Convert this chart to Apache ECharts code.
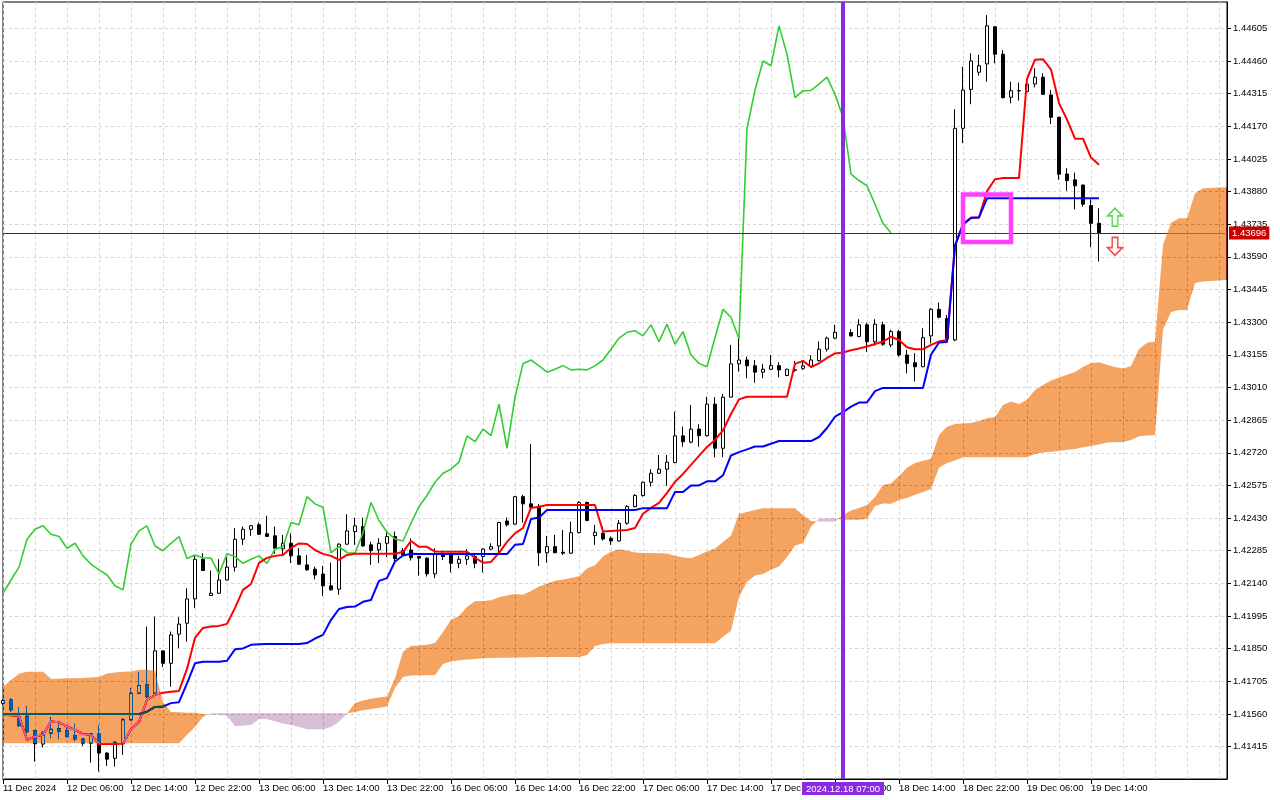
<!DOCTYPE html>
<html>
<head>
<meta charset="utf-8">
<script src="https://cdn.jsdelivr.net/npm/echarts@6/dist/echarts.min.js"></script>
<style>html,body{margin:0;padding:0;background:#fff}#chart{width:1280px;height:800px}</style>
</head>
<body>
<div id="chart"></div>
<script>
// ---------- DATA (H1 candles) ----------
const opens = [
1.41607,1.41622,1.41541,1.41550,1.41485,1.41426,1.41475,1.41494,1.41486,1.41464,
1.41449,1.41430,1.41471,1.41386,1.41363,1.41427,1.41534,1.41652,1.41689,1.41652,
1.41840,1.41785,1.41914,1.41963,1.42071,1.42247,1.42086,1.42096,1.42155,1.42212,
1.42336,1.42380,1.42400,1.42360,1.42351,1.42293,1.42318,1.42262,1.42222,1.42203,
1.42181,1.42129,1.42114,1.42314,1.42370,1.42392,1.42311,1.42289,1.42318,1.42348,
1.42285,1.42288,1.42259,1.42252,1.42182,1.42271,1.42266,1.42229,1.42247,1.42259,
1.42259,1.42292,1.42306,1.42417,1.42403,1.42525,1.42493,1.42478,1.42276,1.42303,
1.42278,1.42274,1.42365,1.42499,1.42352,1.42362,1.42340,1.42328,1.42407,1.42481,
1.42530,1.42589,1.42629,1.42647,1.42676,1.42795,1.42767,1.42825,1.42796,1.42936,
1.42740,1.42967,1.43115,1.43132,1.43106,1.43078,1.43091,1.43107,1.43063,1.43086,
1.43095,1.43104,1.43129,1.43180,1.43229,1.43255,1.43254,1.43236,1.43288,1.43213,
1.43288,1.43199,1.43258,1.43154,1.43120,1.43102,1.43239,1.43357,1.43316,1.43221,
1.44161,1.44334,1.44410,1.44447,1.44612,1.44490,1.44299,1.44327,1.44324,1.44358,
1.44388,1.44309,1.44210,1.43958,1.43932,1.43909,1.43818,1.43739];
const closes = [
1.41620,1.41578,1.41508,1.41481,1.41427,1.41475,1.41492,1.41482,1.41459,1.41449,
1.41430,1.41471,1.41386,1.41359,1.41434,1.41534,1.41652,1.41686,1.41637,1.41840,
1.41785,1.41911,1.41959,1.42071,1.42247,1.42197,1.42096,1.42155,1.42212,1.42336,
1.42380,1.42396,1.42358,1.42348,1.42296,1.42318,1.42262,1.42225,1.42200,1.42177,
1.42129,1.42111,1.42314,1.42373,1.42395,1.42306,1.42285,1.42318,1.42348,1.42250,
1.42266,1.42254,1.42252,1.42182,1.42271,1.42259,1.42229,1.42247,1.42262,1.42229,
1.42292,1.42303,1.42410,1.42400,1.42525,1.42493,1.42478,1.42276,1.42303,1.42276,
1.42274,1.42365,1.42499,1.42419,1.42367,1.42337,1.42328,1.42407,1.42481,1.42530,
1.42589,1.42629,1.42647,1.42678,1.42795,1.42769,1.42825,1.42796,1.42936,1.42740,
1.42967,1.43115,1.43132,1.43106,1.43078,1.43091,1.43107,1.43088,1.43091,1.43088,
1.43106,1.43132,1.43180,1.43229,1.43255,1.43262,1.43239,1.43288,1.43213,1.43291,
1.43202,1.43258,1.43154,1.43117,1.43102,1.43231,1.43357,1.43322,1.43226,1.44161,
1.44331,1.44460,1.44439,1.44616,1.44490,1.44297,1.44328,1.44329,1.44357,1.44388,
1.44312,1.44210,1.43957,1.43929,1.43906,1.43824,1.43739,1.43696];
const lows = [
1.41600,1.41571,1.41502,1.41474,1.41348,1.41411,1.41452,1.41448,1.41457,1.41441,
1.41418,1.41344,1.41304,1.41329,1.41326,1.41378,1.41530,1.41648,1.41632,1.41645,
1.41768,1.41681,1.41852,1.41881,1.42030,1.42195,1.42084,1.42094,1.42153,1.42192,
1.42311,1.42351,1.42355,1.42347,1.42271,1.42266,1.42230,1.42222,1.42196,1.42158,
1.42084,1.42108,1.42089,1.42312,1.42311,1.42303,1.42222,1.42230,1.42256,1.42225,
1.42257,1.42241,1.42174,1.42170,1.42163,1.42244,1.42188,1.42207,1.42222,1.42207,
1.42188,1.42289,1.42266,1.42392,1.42400,1.42410,1.42475,1.42217,1.42232,1.42274,
1.42266,1.42272,1.42362,1.42416,1.42311,1.42330,1.42311,1.42325,1.42400,1.42477,
1.42525,1.42570,1.42626,1.42573,1.42674,1.42747,1.42762,1.42747,1.42792,1.42700,
1.42700,1.42965,1.43080,1.43051,1.43031,1.43051,1.43088,1.43055,1.43060,1.43080,
1.43088,1.43100,1.43125,1.43169,1.43224,1.43240,1.43236,1.43233,1.43168,1.43195,
1.43195,1.43189,1.43147,1.43073,1.43036,1.43100,1.43206,1.43317,1.43222,1.43215,
1.44095,1.44268,1.44395,1.44368,1.44450,1.44294,1.44272,1.44284,1.44319,1.44343,
1.44309,1.44180,1.43932,1.43884,1.43801,1.43813,1.43633,1.43569];
const highs = [
1.41625,1.41630,1.41588,1.41593,1.41489,1.41482,1.41545,1.41519,1.41497,1.41516,
1.41452,1.41473,1.41508,1.41390,1.41440,1.41540,1.41674,1.41745,1.41948,1.41992,
1.41842,1.41926,1.41990,1.42118,1.42262,1.42274,1.42197,1.42247,1.42256,1.42385,
1.42392,1.42398,1.42410,1.42440,1.42392,1.42355,1.42362,1.42296,1.42266,1.42214,
1.42217,1.42232,1.42318,1.42447,1.42432,1.42432,1.42325,1.42340,1.42370,1.42370,
1.42297,1.42340,1.42262,1.42255,1.42296,1.42285,1.42274,1.42262,1.42292,1.42274,
1.42296,1.42318,1.42414,1.42432,1.42528,1.42533,1.42759,1.42493,1.42351,1.42355,
1.42377,1.42414,1.42505,1.42503,1.42400,1.42392,1.42348,1.42422,1.42488,1.42537,
1.42592,1.42647,1.42710,1.42710,1.42903,1.42836,1.42932,1.42847,1.42969,1.42967,
1.42981,1.43199,1.43229,1.43147,1.43132,1.43115,1.43154,1.43122,1.43093,1.43128,
1.43132,1.43154,1.43214,1.43236,1.43288,1.43285,1.43269,1.43313,1.43298,1.43313,
1.43302,1.43266,1.43266,1.43177,1.43162,1.43273,1.43362,1.43387,1.43332,1.44246,
1.44435,1.44494,1.44487,1.44664,1.44614,1.44509,1.44368,1.44364,1.44361,1.44428,
1.44406,1.44331,1.44212,1.43984,1.43964,1.43911,1.43846,1.43806];

// Ichimoku lines
const tenkan = [
1.41556,1.41554,1.41552,1.41445,1.41459,1.41467,1.41526,1.41523,1.41504,1.41489,
1.41471,1.41467,1.41427,1.41427,1.41427,1.41428,1.41492,1.41525,1.41622,1.41645,
1.41654,1.41658,1.41662,1.41760,1.41898,1.41942,1.41948,1.41951,1.41960,1.42031,
1.42111,1.42137,1.42231,1.42253,1.42262,1.42266,1.42297,1.42317,1.42315,1.42288,
1.42271,1.42262,1.42244,1.42266,1.42271,1.42271,1.42271,1.42271,1.42271,1.42271,
1.42280,1.42328,1.42302,1.42302,1.42281,1.42280,1.42280,1.42280,1.42280,1.42253,
1.42232,1.42235,1.42275,1.42324,1.42362,1.42386,1.42475,1.42480,1.42488,1.42488,
1.42488,1.42488,1.42488,1.42488,1.42488,1.42370,1.42373,1.42375,1.42377,1.42386,
1.42449,1.42475,1.42497,1.42542,1.42591,1.42626,1.42666,1.42706,1.42746,1.42777,
1.42819,1.42892,1.42957,1.42969,1.42969,1.42969,1.42969,1.42969,1.42969,1.43115,
1.43128,1.43101,1.43117,1.43141,1.43161,1.43165,1.43175,1.43183,1.43192,1.43203,
1.43214,1.43235,1.43221,1.43189,1.43180,1.43180,1.43199,1.43214,1.43221,1.43641,
1.43736,1.43765,1.43765,1.43882,1.43935,1.43940,1.43940,1.43940,1.44380,1.44466,
1.44468,1.44422,1.44273,1.44200,1.44115,1.44115,1.44031,1.43999];
const kijun = [
1.41560,1.41560,1.41560,1.41560,1.41560,1.41560,1.41560,1.41560,1.41560,1.41560,
1.41560,1.41560,1.41560,1.41560,1.41560,1.41560,1.41560,1.41560,1.41570,1.41591,
1.41593,1.41608,1.41612,1.41696,1.41785,1.41792,1.41792,1.41792,1.41796,1.41847,
1.41851,1.41867,1.41870,1.41871,1.41871,1.41871,1.41871,1.41871,1.41875,1.41895,
1.41911,1.41978,1.42026,1.42035,1.42037,1.42058,1.42066,1.42151,1.42163,1.42237,
1.42264,1.42271,1.42270,1.42270,1.42270,1.42270,1.42270,1.42270,1.42270,1.42270,
1.42270,1.42270,1.42270,1.42270,1.42311,1.42315,1.42426,1.42432,1.42466,1.42466,
1.42466,1.42466,1.42466,1.42466,1.42466,1.42466,1.42466,1.42466,1.42466,1.42466,
1.42474,1.42474,1.42474,1.42474,1.42546,1.42546,1.42575,1.42575,1.42593,1.42593,
1.42620,1.42708,1.42723,1.42735,1.42748,1.42748,1.42760,1.42772,1.42772,1.42772,
1.42772,1.42772,1.42790,1.42830,1.42880,1.42900,1.42925,1.42943,1.42943,1.42994,
1.43008,1.43008,1.43008,1.43008,1.43008,1.43008,1.43155,1.43210,1.43212,1.43639,
1.43733,1.43763,1.43765,1.43850,1.43850,1.43850,1.43850,1.43850,1.43850,1.43850,
1.43850,1.43850,1.43850,1.43850,1.43850,1.43850,1.43850,1.43850];
// Cloud edges (already displaced 26 bars forward), one value per visible bar
const senkouA = [
1.41680,1.41711,1.41738,1.41747,1.41747,1.41747,1.41716,1.41716,1.41718,1.41719,
1.41720,1.41722,1.41724,1.41740,1.41744,1.41747,1.41749,1.41756,1.41756,1.41751,
1.41613,1.41569,1.41567,1.41565,1.41565,1.41560,1.41556,1.41556,1.41553,1.41505,
1.41507,1.41511,1.41536,1.41537,1.41527,1.41518,1.41511,1.41502,1.41492,1.41492,
1.41492,1.41502,1.41525,1.41562,1.41609,1.41620,1.41627,1.41633,1.41637,1.41719,
1.41836,1.41862,1.41864,1.41867,1.41875,1.41924,1.41978,1.41995,1.42035,1.42060,
1.42062,1.42065,1.42078,1.42086,1.42093,1.42089,1.42106,1.42126,1.42139,1.42151,
1.42157,1.42164,1.42171,1.42206,1.42220,1.42259,1.42280,1.42291,1.42286,1.42277,
1.42275,1.42275,1.42274,1.42273,1.42262,1.42255,1.42252,1.42266,1.42281,1.42295,
1.42324,1.42353,1.42448,1.42457,1.42466,1.42474,1.42474,1.42474,1.42474,1.42474,
1.42444,1.42417,1.42415,1.42415,1.42415,1.42444,1.42464,1.42475,1.42488,1.42524,
1.42577,1.42584,1.42617,1.42653,1.42675,1.42684,1.42693,1.42799,1.42835,1.42848,
1.42850,1.42852,1.42861,1.42873,1.42879,1.42932,1.42948,1.42937,1.42955,1.42999,
1.43021,1.43041,1.43054,1.43066,1.43079,1.43101,1.43119,1.43122,1.43111,1.43101,
1.43094,1.43105,1.43181,1.43209,1.43214,1.43643,1.43741,1.43762,1.43762,1.43872,
1.43895,1.43896,1.43898,1.43899];
const senkouB = [
1.41430,1.41430,1.41430,1.41430,1.41430,1.41430,1.41430,1.41430,1.41430,1.41430,
1.41430,1.41430,1.41430,1.41430,1.41430,1.41430,1.41430,1.41430,1.41430,1.41430,
1.41430,1.41430,1.41430,1.41467,1.41502,1.41547,1.41563,1.41563,1.41563,1.41563,
1.41563,1.41563,1.41563,1.41563,1.41563,1.41563,1.41563,1.41563,1.41563,1.41563,
1.41563,1.41563,1.41563,1.41563,1.41569,1.41576,1.41582,1.41587,1.41593,1.41676,
1.41724,1.41731,1.41732,1.41732,1.41733,1.41782,1.41793,1.41798,1.41802,1.41804,
1.41807,1.41808,1.41809,1.41810,1.41811,1.41811,1.41812,1.41813,1.41813,1.41813,
1.41813,1.41813,1.41813,1.41822,1.41862,1.41871,1.41874,1.41874,1.41874,1.41874,
1.41874,1.41874,1.41874,1.41874,1.41874,1.41874,1.41874,1.41874,1.41874,1.41874,
1.41903,1.41929,1.42080,1.42146,1.42175,1.42182,1.42200,1.42215,1.42257,1.42308,
1.42318,1.42391,1.42428,1.42428,1.42428,1.42422,1.42422,1.42422,1.42426,1.42484,
1.42495,1.42493,1.42510,1.42519,1.42533,1.42546,1.42559,1.42653,1.42675,1.42686,
1.42700,1.42700,1.42700,1.42700,1.42700,1.42700,1.42700,1.42700,1.42700,1.42715,
1.42721,1.42724,1.42728,1.42733,1.42737,1.42744,1.42750,1.42757,1.42765,1.42767,
1.42768,1.42777,1.42793,1.42797,1.42799,1.43266,1.43345,1.43354,1.43354,1.43474,
1.43481,1.43483,1.43485,1.43488];

const CHIKOU_SHIFT = 26;
const xTickLabels = ['11 Dec 2024','12 Dec 06:00','12 Dec 14:00','12 Dec 22:00','13 Dec 06:00',
  '13 Dec 14:00','13 Dec 22:00','16 Dec 06:00','16 Dec 14:00','16 Dec 22:00','17 Dec 06:00',
  '17 Dec 14:00','17 Dec 22:00','18 Dec 06:00','18 Dec 14:00','18 Dec 22:00','19 Dec 06:00','19 Dec 14:00'];
const yTickLabels = ['1.41415','1.41560','1.41705','1.41850','1.41995','1.42140','1.42285','1.42430',
  '1.42575','1.42720','1.42865','1.43010','1.43155','1.43300','1.43445','1.43590','1.43735','1.43880',
  '1.44025','1.44170','1.44315','1.44460','1.44605'];
const lastPrice = 1.43696;
const vLineBar = 105;
const vLineLabel = '2024.12.18 07:00';
const rectCorners = [[120, 1.43867], [126, 1.43656]];
const arrowUpPoint = [139, 1.43766];
const arrowDownPoint = [139, 1.43637];

// hourly categories (weekend skipped)
const categories = (function () {
  const out = [];
  let t = Date.UTC(2024, 11, 11, 22);
  const p = n => (n < 10 ? '0' : '') + n;
  while (out.length < senkouA.length) {
    const d = new Date(t);
    const wd = d.getUTCDay();
    if (wd !== 0 && wd !== 6) {
      out.push(d.getUTCFullYear() + '.' + p(d.getUTCMonth() + 1) + '.' + p(d.getUTCDate()) + ' ' + p(d.getUTCHours()) + ':00');
    }
    t += 3600000;
  }
  return out;
})();

const candleData = opens.map((o, i) => [o, closes[i], lows[i], highs[i]]);
const chikou = categories.map((c, i) => (i + CHIKOU_SHIFT < closes.length ? closes[i + CHIKOU_SHIFT] : null));
const yTicks = yTickLabels.map(Number);
const lastTickBar = (xTickLabels.length - 1) * 8;

const FONT = 'Liberation Sans';
const chart = echarts.init(document.getElementById('chart'), null, { renderer: 'canvas' });

function cloudRender(params, api) {
  const n = senkouA.length;
  const pa = [], pb = [];
  for (let i = 0; i < n; i++) {
    pa.push(api.coord([i, senkouA[i]]));
    pb.push(api.coord([i, senkouB[i]]));
  }
  const children = [];
  const make = (aPts, bPts, sign) => ({
    type: 'polygon',
    shape: { points: aPts.concat(bPts.slice().reverse()) },
    style: { fill: sign > 0 ? '#0b5b9f' : '#274027', stroke: null }
  });
  let sign = Math.sign(senkouA[0] - senkouB[0]) || 1;
  let aPts = [pa[0]], bPts = [pb[0]];
  for (let i = 0; i < n - 1; i++) {
    const d0 = senkouA[i] - senkouB[i], d1 = senkouA[i + 1] - senkouB[i + 1];
    const s1 = Math.sign(d1) || sign;
    if (s1 !== sign) {
      const t = d0 / (d0 - d1);
      const c = [pa[i][0] + t * (pa[i + 1][0] - pa[i][0]), pa[i][1] + t * (pa[i + 1][1] - pa[i][1])];
      aPts.push(c);
      children.push(make(aPts, bPts, sign));
      aPts = [c]; bPts = []; sign = s1;
    }
    aPts.push(pa[i + 1]); bPts.push(pb[i + 1]);
  }
  children.push(make(aPts, bPts, sign));
  return { type: 'group', children: children };
}

const gridLine = { color: '#d6d6d6', width: 1, type: [3, 3] };

chart.setOption({
  animation: false,
  backgroundColor: '#ffffff',
  grid: { left: 3, right: 53, top: 2, bottom: 21, show: true, borderColor: '#000', borderWidth: 1, backgroundColor: '#ffffff', containLabel: false },
  xAxis: {
    type: 'category', data: categories, boundaryGap: false,
    axisLine: { show: true, lineStyle: { color: '#000', width: 1 } },
    axisTick: { show: true, interval: (i) => i % 8 === 0 && i <= lastTickBar, length: 5, lineStyle: { color: '#000' } },
    axisLabel: { interval: 7, align: 'left', margin: 4, color: '#000', fontSize: 9.5, fontFamily: FONT,
      formatter: (v, i) => xTickLabels[i / 8] || '' },
    splitLine: { show: true, interval: 3, lineStyle: gridLine }
  },
  yAxis: {
    type: 'value', position: 'right', min: 1.41271, max: 1.44722, scale: true,
    axisLine: { show: true, lineStyle: { color: '#000', width: 1 } },
    axisTick: { show: true, length: 4, customValues: yTicks, lineStyle: { color: '#000' } },
    axisLabel: { customValues: yTicks, margin: 6, color: '#000', fontSize: 9.5, fontFamily: FONT,
      formatter: v => v.toFixed(5) },
    splitLine: { show: true, lineStyle: gridLine }
  },
  series: [
    {
      name: 'price', type: 'candlestick', data: candleData, barWidth: 4, z: 2, silent: true,
      itemStyle: { color: '#ffffff', color0: '#000000', borderColor: '#000000', borderColor0: '#000000', borderColorDoji: '#000000', borderWidth: 1 }
    },
    { name: 'Chikou', type: 'line', data: chikou, symbol: 'none', z: 3, silent: true,
      lineStyle: { color: '#32cd32', width: 1.6 } },
    { name: 'Tenkan', type: 'line', data: tenkan, symbol: 'none', z: 3, silent: true,
      lineStyle: { color: '#ff0000', width: 2 },
      markLine: {
        z: 4, silent: true, symbol: 'none', animation: false, precision: 5,
        lineStyle: { color: '#b40000', width: 1, type: 'solid' },
        label: { position: 'end', distance: 2, formatter: lastPrice.toFixed(5), color: '#fff', backgroundColor: '#c80000',
          padding: [2, 3, 1, 3], fontSize: 9.5, fontFamily: FONT },
        data: [{ yAxis: lastPrice }]
      }
    },
    { name: 'Kijun', type: 'line', data: kijun, symbol: 'none', z: 3, silent: true,
      lineStyle: { color: '#0000ff', width: 2 },
      markLine: {
        z: 10, silent: true, symbol: 'none', animation: false,
        lineStyle: { color: '#8a2be2', width: 4, type: 'solid' },
        label: { position: 'start', distance: 3, formatter: vLineLabel, color: '#fff', backgroundColor: '#8a2be2',
          padding: [2, 4, 1, 4], fontSize: 9.5, fontFamily: FONT },
        data: [{ xAxis: categories[vLineBar] }]
      }
    },
    { name: 'Cloud', type: 'custom', z: 6, silent: true, blendMode: 'difference',
      data: [[0, senkouA[0]]], encode: { x: 0, y: 1 }, renderItem: cloudRender },
    {
      name: 'Objects', type: 'scatter', z: 9, silent: true,
      data: [
        { value: [categories[arrowUpPoint[0]], arrowUpPoint[1]], symbol: 'path://M8,0 L16,8 L11,8 L11,19 L5,19 L5,8 L0,8 Z',
          symbolSize: [15, 18], itemStyle: { color: '#f4fff0', borderColor: '#34d034', borderWidth: 1.6 } },
        { value: [categories[arrowDownPoint[0]], arrowDownPoint[1]], symbol: 'path://M5,0 L11,0 L11,11 L16,11 L8,19 L0,11 L5,11 Z',
          symbolSize: [15, 18], itemStyle: { color: '#fff4f4', borderColor: '#f02020', borderWidth: 1.6 } }
      ],
      markArea: {
        z: 8, silent: true,
        itemStyle: { color: 'rgba(0,0,0,0)', borderColor: '#ff40ff', borderWidth: 4.5 },
        data: [[{ xAxis: categories[rectCorners[0][0]], yAxis: rectCorners[0][1] },
                { xAxis: categories[rectCorners[1][0]], yAxis: rectCorners[1][1] }]]
      }
    }
  ]
});
</script>
</body>
</html>
